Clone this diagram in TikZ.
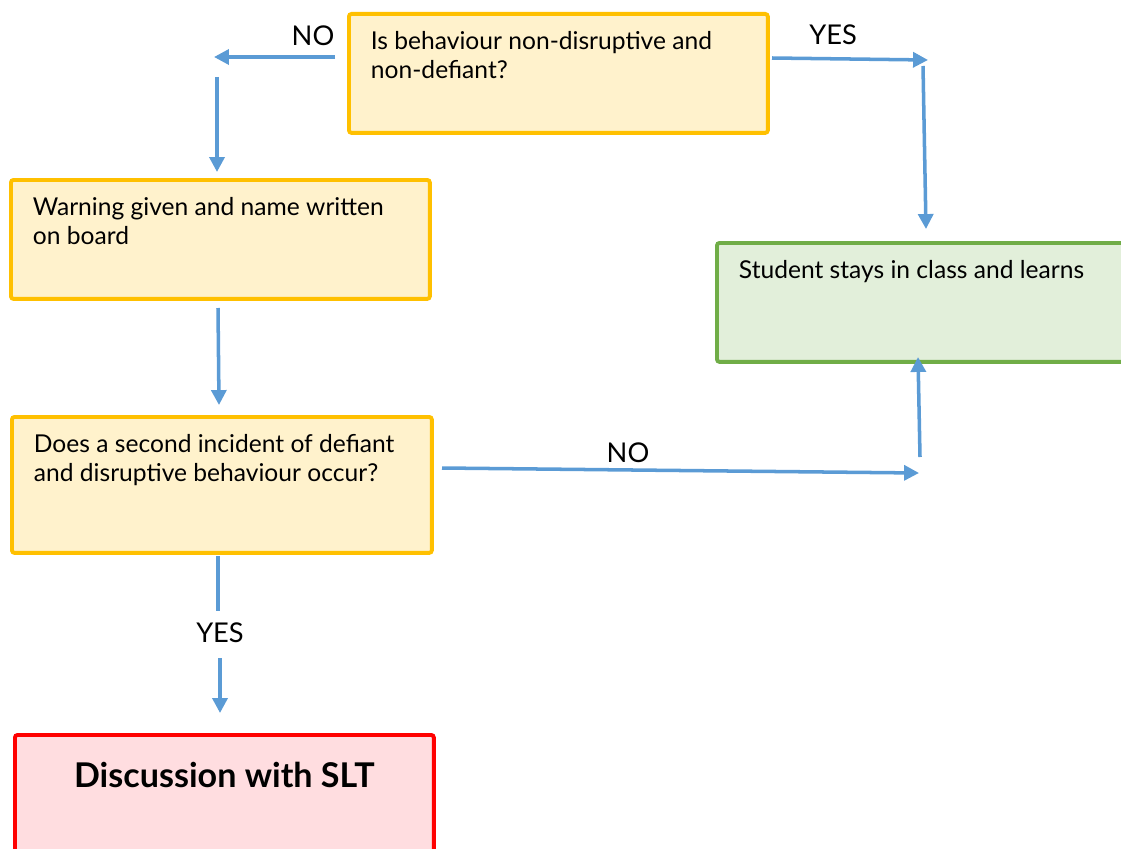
\documentclass[tikz,border=0pt]{standalone}
\usepackage{fontspec}
\setmainfont{Lato}
\usetikzlibrary{arrows.meta}

\definecolor{askline}{HTML}{FFC000}
\definecolor{askfill}{HTML}{FFF2CC}
\definecolor{okline}{HTML}{70AD47}
\definecolor{okfill}{HTML}{E2EFDA}
\definecolor{sltline}{HTML}{FF0000}
\definecolor{sltfill}{HTML}{FFDDE0}
\definecolor{flowblue}{HTML}{5B9BD5}

\newcommand{\boxtext}[3]{\parbox[t][#1][t]{#2}{#3}}

\tikzset{
  stepbox/.style={draw, rounded corners=1.5pt, line width=2.2pt, anchor=north west,
    inner xsep=0.44cm, inner ysep=0.34cm, font=\fontsize{14}{17}\selectfont},
  askbox/.style={stepbox, draw=askline, fill=askfill},
  okbox/.style={stepbox, draw=okline, fill=okfill},
  sltbox/.style={stepbox, draw=sltline, fill=sltfill, inner ysep=0.54cm,
    font=\fontsize{19.4}{22}\selectfont\bfseries},
  flow/.style={draw=flowblue, line width=2pt, -{Triangle[length=8.5pt,width=8.5pt]}},
  flowline/.style={draw=flowblue, line width=2pt},
  answer/.style={font=\fontsize{15.5}{18}\selectfont}
}

\begin{document}
\begin{tikzpicture}[x=0.02cm,y=-0.02cm]
    \useasboundingbox (0,0) rectangle (1121,848);

    \coordinate (n1s) at (335,57);
    \coordinate (n1e) at (214,57);
    \coordinate (n2s) at (217,77);
    \coordinate (n2e) at (217,172);
    \coordinate (y1s) at (772,58);
    \coordinate (y1e) at (928,60);
    \coordinate (y2s) at (923,66);
    \coordinate (y2e) at (926,229);
    \coordinate (w1s) at (218,308);
    \coordinate (w1e) at (219,405);
    \coordinate (n3s) at (442,468);
    \coordinate (n3e) at (919,473);
    \coordinate (n4s) at (920,457);
    \coordinate (n4e) at (918,357);
    \coordinate (y3s) at (218,556);
    \coordinate (y3m) at (218,611);
    \coordinate (y4s) at (220,658);
    \coordinate (y4e) at (220,713);

    \node[askbox] (ask) at (347,12)
      {\boxtext{1.70cm}{7.5cm}{Is behaviour non-disruptive and\\non-defiant?}};
    \node[askbox] (warn) at (9,178)
      {\boxtext{1.70cm}{7.5cm}{Warning given and name written\\on board}};
    \node[okbox] (stay) at (715,241)
      {\boxtext{1.70cm}{7.6cm}{Student stays in class and learns}};
    \node[askbox] (again) at (10,415)
      {\boxtext{2.04cm}{7.52cm}{Does a second incident of defiant\\and disruptive behaviour occur?}};
    \node[sltbox] (slt) at (13,733)
      {\boxtext{1.52cm}{7.5cm}{\centering Discussion with SLT}};

    \draw[flow] (n1s) -- (n1e);
    \draw[flow] (n2s) -- (n2e);
    \draw[flow] (y1s) -- (y1e);
    \draw[flow] (y2s) -- (y2e);
    \draw[flow] (w1s) -- (w1e);
    \draw[flow] (n3s) -- (n3e);
    \draw[flow] (n4s) -- (n4e);
    \draw[flowline] (y3s) -- (y3m);
    \draw[flow] (y4s) -- (y4e);

    \node[answer] (no1) at (313,36) {NO};
    \node[answer] (yes1) at (833,35) {YES};
    \node[answer] (no2) at (628,453) {NO};
    \node[answer] (yes2) at (220,633) {YES};
\end{tikzpicture}
\end{document}
